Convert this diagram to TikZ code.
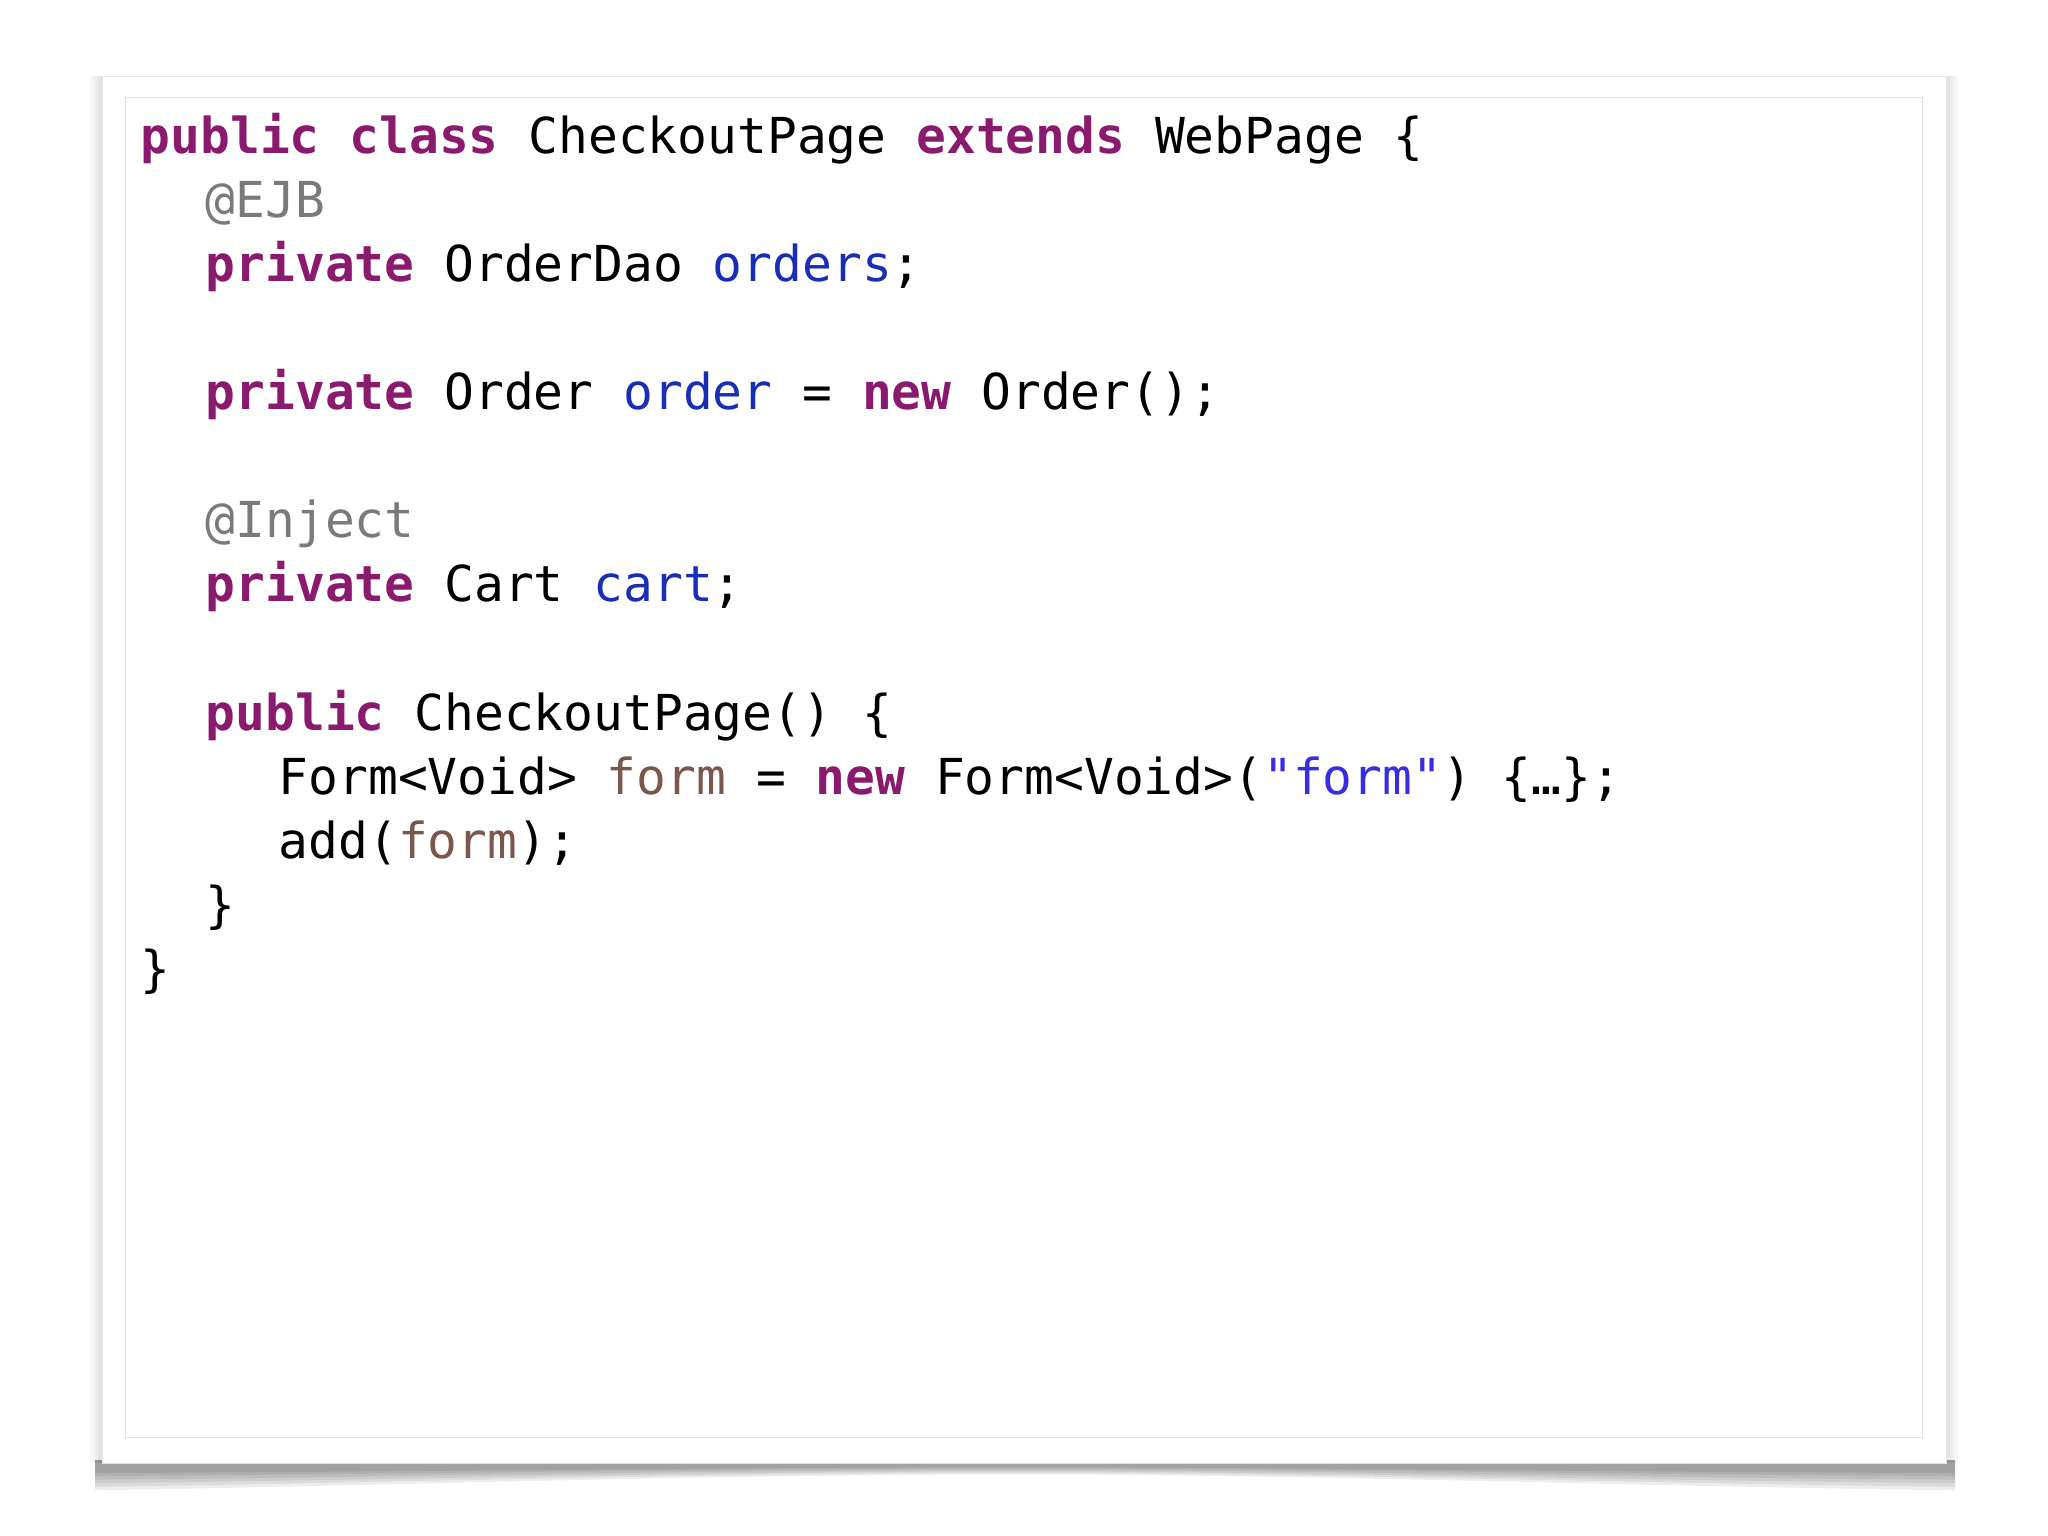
\documentclass[tikz,border=0pt]{standalone}
\usepackage{fontspec}
\setmonofont{DejaVu Sans Mono}
\definecolor{kwc}{HTML}{8A1A6E}
\definecolor{fldc}{HTML}{1A2DB5}
\definecolor{annc}{HTML}{7A7A7A}
\definecolor{lclc}{HTML}{7A5850}
\definecolor{strc}{HTML}{3A2DE0}
\newcommand{\kwd}[1]{\textcolor{kwc}{\bfseries #1}}
\newcommand{\fldn}[1]{\textcolor{fldc}{#1}}
\newcommand{\annt}[1]{\textcolor{annc}{#1}}
\newcommand{\lcl}[1]{\textcolor{lclc}{#1}}
\newcommand{\strg}[1]{\textcolor{strc}{#1}}
\tikzset{codeline/.style={anchor=base west,inner sep=0pt,font=\fontsize{14.1}{17}\selectfont\ttfamily}}
\begin{document}
\begin{tikzpicture}
\useasboundingbox (0,0) rectangle (20.48,-15.36);
\fill[white] (0,0) rectangle (20.48,-15.36);
% soft side shadow
\foreach \d in {0.04,0.08,0.12}{
  \fill[black,opacity=0.035] (1.02-\d,-0.76) rectangle (19.46+\d,-14.63);
}
% bottom shadow
\foreach \w in {0.05,0.10,0.16,0.22,0.28,0.34}{
  \fill[black,opacity=0.07] (0.95,-14.60) -- (19.55,-14.60) -- (19.55,-14.70-\w*0.6)
    .. controls (16,-14.70-\w*0.45) and (13,-14.66-\w*0.25) .. (10.24,-14.66-\w*0.25)
    .. controls (7,-14.66-\w*0.25) and (4,-14.70-\w*0.45) .. (0.95,-14.70-\w*0.6) -- cycle;
}
\node[draw=black!10,fill=white,minimum width=18.44cm,minimum height=13.87cm,anchor=north west,inner sep=0pt] (card) at (1.02,-0.76) {};
\node[draw=black!12,fill=white,minimum width=17.97cm,minimum height=13.40cm,anchor=north west,inner sep=0pt] (inner) at (1.25,-0.97) {};
\def\xa{1.40}\def\xb{2.05}\def\xc{2.78}
\node[codeline] (l0) at (\xa,-1.54) {\kwd{public} \kwd{class} CheckoutPage \kwd{extends} WebPage \{};
\node[codeline] (l1) at (\xb,-2.18) {\annt{@EJB}};
\node[codeline] (l2) at (\xb,-2.82) {\kwd{private} OrderDao \fldn{orders};};
\node[codeline] (l4) at (\xb,-4.10) {\kwd{private} Order \fldn{order} = \kwd{new} Order();};
\node[codeline] (l6) at (\xb,-5.38) {\annt{@Inject}};
\node[codeline] (l7) at (\xb,-6.02) {\kwd{private} Cart \fldn{cart};};
\node[codeline] (l9) at (\xb,-7.30) {\kwd{public} CheckoutPage() \{};
\node[codeline] (l10) at (\xc,-7.94) {Form<Void> \lcl{form} = \kwd{new} Form<Void>(\strg{"form"}) \{…\};};
\node[codeline] (l11) at (\xc,-8.58) {add(\lcl{form});};
\node[codeline] (l12) at (\xb,-9.22) {\}};
\node[codeline] (l13) at (\xa,-9.86) {\}};
\end{tikzpicture}
\end{document}
